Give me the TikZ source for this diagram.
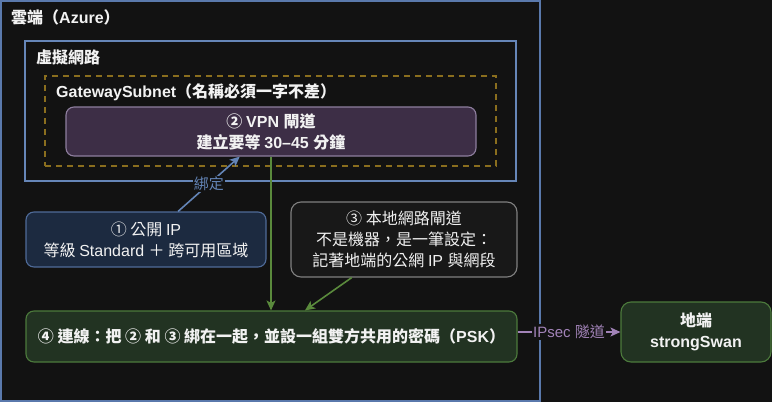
\documentclass[tikz,border=0pt]{standalone}
\usepackage{fontspec}
\setmainfont{Liberation Sans}
\newfontfamily\cjkfont{Noto Sans CJK TC}
\usetikzlibrary{arrows.meta,calc}
% automatic switch to the CJK font for CJK characters
\XeTeXinterchartokenstate=1
\newXeTeXintercharclass\CJKcls
\count255="3000
\loop\XeTeXcharclass\count255=\CJKcls\ifnum\count255<"9FFF\advance\count255 by 1\repeat
\count255="FF00
\loop\XeTeXcharclass\count255=\CJKcls\ifnum\count255<"FFEF\advance\count255 by 1\repeat
\count255="2460
\loop\XeTeXcharclass\count255=\CJKcls\ifnum\count255<"24FF\advance\count255 by 1\repeat
\XeTeXinterchartoks 0 \CJKcls = {\cjkfont}
\XeTeXinterchartoks 4095 \CJKcls = {\cjkfont}
\XeTeXinterchartoks \CJKcls 0 = {\rmfamily}
\XeTeXinterchartoks 4095 0 = {\rmfamily}

\definecolor{bg}{HTML}{121212}
\definecolor{azureline}{HTML}{5A79AC}
\definecolor{vnetline}{HTML}{6686B8}
\definecolor{subnetline}{HTML}{8A6E1E}
\definecolor{vpnfill}{HTML}{3D2E46}
\definecolor{vpnline}{HTML}{8E7E9E}
\definecolor{ipfill}{HTML}{1C2A40}
\definecolor{ipline}{HTML}{4F6B99}
\definecolor{lgfill}{HTML}{181818}
\definecolor{lgline}{HTML}{808080}
\definecolor{gfill}{HTML}{223322}
\definecolor{gline}{HTML}{4C7A3C}
\definecolor{garrow}{HTML}{5A8A3C}
\definecolor{barrow}{HTML}{6384B6}
\definecolor{parrow}{HTML}{A283B8}
\definecolor{txt}{HTML}{F2F2F2}

\tikzset{
  base/.style={font=\fontsize{16}{21}\selectfont, text=txt, align=center, inner sep=0pt},
  container/.style={draw, inner sep=0pt, fill=none},
  boxtitle/.style={anchor=west, text=txt, font=\fontsize{16}{21}\selectfont\bfseries, inner sep=0pt},
  card/.style={base, draw, rounded corners=8pt, line width=1.1pt},
  boldcard/.style={card, font=\fontsize{16}{21}\selectfont\bfseries},
  conn/.style={line width=1.6pt, -{Stealth[length=10pt,width=9pt,inset=2.5pt]}},
  lbl/.style={fill=bg, inner sep=1pt, font=\fontsize{15}{18}\selectfont},
}

\begin{document}
\begin{tikzpicture}[x=1pt,y=-1pt]
\fill[bg] (0,0) rectangle (772,402);
\useasboundingbox (0,0) rectangle (772,402);

% containers
\node[container, draw=azureline, line width=2pt, minimum width=539pt, minimum height=400pt] (azure) at (270.5,201) {};
\node[boxtitle] (azuret) at (11,17) {雲端（Azure）};
\node[container, draw=vnetline, line width=1.6pt, minimum width=491pt, minimum height=140pt] (vnet) at (270.5,111) {};
\node[boxtitle] (vnett) at (36,57) {虛擬網路};
\node[container, draw=subnetline, line width=1.6pt, dash pattern=on 6pt off 5pt, minimum width=451pt, minimum height=90pt] (subnet) at (270.5,121) {};
\node[boxtitle] (subnett) at (56,92) {GatewaySubnet（名稱必須一字不差）};

% cards
\node[boldcard, draw=vpnline, fill=vpnfill, minimum width=410pt, minimum height=49pt] (vpn) at (271,131.5) {② VPN 閘道\\建立要等 30–45 分鐘};
\node[card, draw=ipline, fill=ipfill, minimum width=240pt, minimum height=55pt] (ip) at (146,239.5) {① 公開 IP\\等級 Standard ＋ 跨可用區域};
\node[card, draw=lgline, fill=lgfill, rounded corners=10pt, minimum width=226pt, minimum height=75pt] (lgw) at (404,239.5) {③ 本地網路閘道\\不是機器，是一筆設定：\\記著地端的公網 IP 與網段};
\node[boldcard, draw=gline, fill=gfill, minimum width=491pt, minimum height=51pt] (conn) at (271.5,336.5) {④ 連線：把 ② 和 ③ 綁在一起，並設一組雙方共用的密碼（PSK）};
\node[boldcard, draw=gline, fill=gfill, rounded corners=10pt, minimum width=150pt, minimum height=60pt] (onprem) at (696,332) {地端\\strongSwan};

% connectors
\draw[conn, draw=garrow, fill=garrow] (vpn.south) -- (vpn.south |- conn.north);
\draw[conn, draw=garrow, fill=garrow] ($(lgw.south west)!0.27!(lgw.south east)$) -- ($(conn.north west)!0.568!(conn.north east)$);
\draw[conn, draw=barrow, fill=barrow] ($(ip.north west)!0.633!(ip.north east)$) -- node[lbl, text=barrow] {綁定} ($(vpn.south west)!0.424!(vpn.south east)$);
\draw[conn, draw=parrow, fill=parrow] (conn.east |- onprem.west) -- node[lbl, text=parrow] {IPsec 隧道} (onprem.west);
\end{tikzpicture}
\end{document}
